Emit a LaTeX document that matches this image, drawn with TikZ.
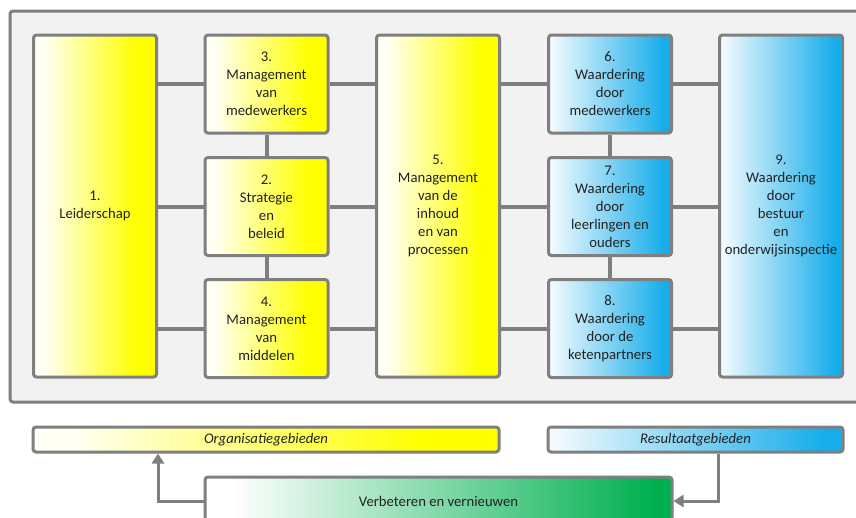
\documentclass[tikz,border=0pt]{standalone}
\usepackage{fontspec}
\setmainfont{Carlito}
\usetikzlibrary{arrows.meta}
\definecolor{lc}{HTML}{7F7F7F}
\definecolor{panelc}{HTML}{F2F2F2}
\definecolor{ylA}{HTML}{FFFFF4}
\definecolor{ylB}{HTML}{FFFF00}
\definecolor{blA}{HTML}{F2FAFE}
\definecolor{blB}{HTML}{16ADEA}
\definecolor{grA}{HTML}{FFFFFF}
\definecolor{grB}{HTML}{00B050}
\definecolor{txt}{HTML}{222222}
\pgfdeclarehorizontalshading{ygrad}{100bp}{color(0bp)=(ylA); color(29bp)=(ylA); color(67bp)=(ylB); color(100bp)=(ylB)}
\pgfdeclarehorizontalshading{bgrad}{100bp}{color(0bp)=(blA); color(26bp)=(blA); color(72bp)=(blB); color(100bp)=(blB)}
\pgfdeclarehorizontalshading{ggrad}{100bp}{color(0bp)=(grA); color(28bp)=(grA); color(73bp)=(grB); color(100bp)=(grB)}
\begin{document}
\begin{tikzpicture}[x=1pt,y=-1pt,
  every node/.style={font=\fontsize{14.7}{18}\selectfont, text=txt},
  box/.style={draw=lc, line width=3pt, rounded corners=3pt, align=center, inner sep=0pt, shade},
  ybox/.style={box, shading=ygrad},
  bbox/.style={box, shading=bgrad},
  gbox/.style={box, shading=ggrad},
  small/.style={minimum width=123pt, minimum height=98pt},
  tall/.style={minimum width=123pt, minimum height=342pt},
  conn/.style={draw=lc, line width=4pt},
  arr/.style={draw=lc, line width=3pt, -{Triangle[width=12pt,length=10pt]}}]
\useasboundingbox (0,0) rectangle (856,517);
\clip (0,0) rectangle (856,517);
\fill[white] (0,0) rectangle (856,517);
\draw[draw=lc, fill=panelc, line width=3pt, rounded corners=3pt] (10,11) rectangle (880,402);
% boxes
\node[ybox, tall] (b1) at (95,206) {1.\\Leiderschap};
\node[ybox, small] (b3) at (266.5,84) {3.\\Management\\van\\medewerkers};
\node[ybox, small] (b2) at (266.5,206.5) {2.\\Strategie\\en\\beleid};
\node[ybox, small] (b4) at (266.5,328.5) {4.\\Management\\van\\middelen};
\node[ybox, tall] (b5) at (438,206) {5.\\Management\\van de\\inhoud\\en van\\processen};
\node[bbox, small] (b6) at (610,84) {6.\\Waardering\\door\\medewerkers};
\node[bbox, small] (b7) at (610,206.5) {7.\\Waardering\\door\\leerlingen en\\ouders};
\node[bbox, small] (b8) at (610,328.5) {8.\\Waardering\\door de\\ketenpartners};
\node[bbox, tall] (b9) at (781,206) {9.\\Waardering\\door\\bestuur\\en\\onderwijsinspectie};
% horizontal connectors
\foreach \a/\b in {b1/b3,b3/b5,b5/b6,b6/b9}{\draw[conn] (\a.east |- b3.center) -- (\b.west |- b3.center);}
\foreach \a/\b in {b1/b2,b2/b5,b5/b7,b7/b9}{\draw[conn] (\a.east |- b2.center) -- (\b.west |- b2.center);}
\foreach \a/\b in {b1/b4,b4/b5,b5/b8,b8/b9}{\draw[conn] (\a.east |- b4.center) -- (\b.west |- b4.center);}
% vertical connectors
\draw[conn] (b3.south) -- (b2.north);
\draw[conn] (b2.south) -- (b4.north);
\draw[conn] (b6.south) -- (b7.north);
\draw[conn] (b7.south) -- (b8.north);
% bottom bars
\node[ybox, minimum width=466pt, minimum height=25pt, font=\fontsize{14.7}{18}\selectfont\itshape] (org) at (266,439.5) {Organisatiegebieden};
\node[bbox, minimum width=295pt, minimum height=25pt, font=\fontsize{14.7}{18}\selectfont\itshape] (res) at (695.5,439.5) {Resultaatgebieden};
\node[gbox, minimum width=467pt, minimum height=48pt] (g) at (438.5,501) {Verbeteren en vernieuwen};
% arrows
\draw[arr] (g.west) -| (b1.east |- org.south);
\draw[arr] (b9.west |- res.south) |- (g.east);
\end{tikzpicture}
\end{document}
